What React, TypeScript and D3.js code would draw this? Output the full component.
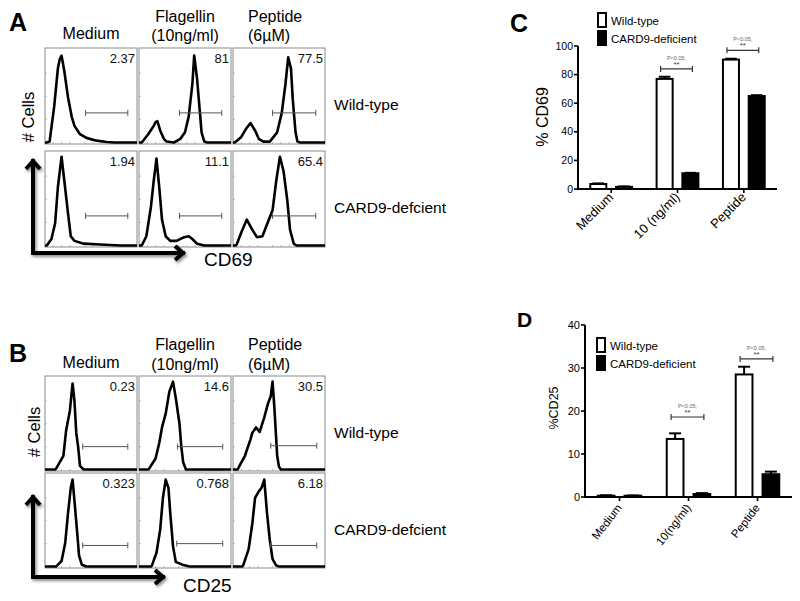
import React from 'react';
import * as d3 from 'd3';

const FONT = '"Liberation Sans", Arial, Helvetica, sans-serif';

// ---- flow cytometry panels (A: CD69, B: CD25) ----
// histogram traces: [fluorescence %, cell count %] within each plot
type Pt = [number, number];

const conditionTitles = [['Medium'], ['Flagellin', '(10ng/ml)'], ['Peptide', '(6µM)']];
const genotypes = ['Wild-type', 'CARD9-defcient'];

const cd69WtMedium: Pt[] = [[0, 0], [2, 0], [5, 1], [10, 39], [14, 80], [16, 90], [18, 94], [21, 77], [25, 49], [29, 28], [32, 18], [38, 9], [45, 5], [56, 2], [67, 0.5], [75, 0], [100, 0]];
const cd69WtFlag: Pt[] = [[0, 0], [3, 0], [10, 9], [16, 18], [18, 22], [20, 23], [23, 13], [27, 4], [30, 1], [38, 0], [45, 4], [50, 11], [54, 28], [58, 63], [60, 94], [63, 70], [66, 35], [68, 11], [71, 1], [74, 0], [100, 0]];
const cd69WtPep: Pt[] = [[0, 0], [2, 0], [9, 6], [15, 16], [19, 21], [24, 13], [28, 4], [33, 1], [40, 1], [48, 11], [53, 32], [57, 63], [60, 92], [63, 80], [65, 46], [68, 11], [70, 1], [73, 0], [100, 0]];
const cd69KoMedium: Pt[] = [[0, 0], [2, 0], [7, 7], [11, 24], [14, 63], [18, 96], [21, 70], [25, 35], [28, 10], [32, 5], [42, 2], [60, 1], [82, 0], [100, 0]];
const cd69KoFlag: Pt[] = [[0, 0], [3, 0], [8, 10], [13, 42], [16, 70], [19, 94], [22, 63], [25, 28], [29, 10], [34, 5], [41, 5], [49, 9], [54, 10], [58, 7], [63, 2], [71, 0], [100, 0]];
const cd69KoPep: Pt[] = [[0, 0], [3, 0], [4, 1], [9, 14], [15, 28], [21, 17], [26, 9], [32, 10], [37, 23], [43, 38], [47, 70], [51, 96], [55, 80], [59, 49], [62, 17], [66, 2], [69, 0], [100, 0]];

const cd25WtMedium: Pt[] = [[0, 0], [11, 0], [12, 1], [20, 15], [23, 43], [27, 64], [30, 94], [32, 75], [34, 40], [36, 25], [38, 4], [42, 0], [100, 0]];
const cd25WtFlag: Pt[] = [[0, 0], [10, 0], [11, 1], [18, 12], [22, 29], [25, 46], [29, 61], [33, 85], [37, 96], [40, 78], [44, 50], [46, 25], [48, 8], [51, 0], [100, 0]];
const cd25WtPep: Pt[] = [[0, 0], [5, 0], [7, 4], [13, 15], [19, 33], [21, 40], [25, 46], [29, 41], [34, 57], [38, 72], [41, 80], [43, 96], [45, 67], [47, 33], [48, 15], [50, 3], [52, 0], [100, 0]];
const cd25KoMedium: Pt[] = [[0, 0], [12, 0], [13, 1], [18, 6], [22, 26], [25, 58], [28, 86], [30, 95], [32, 72], [35, 37], [37, 12], [40, 2], [45, 0], [100, 0]];
const cd25KoFlag: Pt[] = [[0, 0], [13, 0], [14, 1], [19, 15], [23, 40], [26, 75], [29, 95], [32, 86], [34, 58], [37, 22], [40, 5], [47, 2], [55, 0], [100, 0]];
const cd25KoPep: Pt[] = [[0, 0], [10, 0], [11, 1], [17, 19], [21, 47], [24, 75], [28, 82], [31, 86], [34, 95], [37, 58], [40, 29], [43, 8], [47, 1], [50, 0], [100, 0]];

// gate markers [start, end, level]
const cd69Gates: [number, number, number][] = [[44, 90, 32], [44, 90, 32], [43, 90, 32]];
const cd25Gates: [number, number, number][] = [[41, 90, 25], [42, 91, 25], [41, 91, 26]];
const cd25GatesKo: [number, number, number][] = [[41, 90, 23], [41, 91, 25], [41, 91, 23]];

const cd69WtPct = ['2.37', '81', '77.5'];
const cd69KoPct = ['1.94', '11.1', '65.4'];
const cd25WtPct = ['0.23', '14.6', '30.5'];
const cd25KoPct = ['0.323', '0.768', '6.18'];

const histLogTicks = [0, 9, 18, 27, 43, 52, 61, 78, 87, 96];
const histCountTicks = [25, 50, 75];

// ---- bar charts (C: %CD69, D: %CD25) ----
const groupsC = ['Medium', '10 (ng/ml)', 'Peptide'];
const cd69Wt = [3.5, 77, 90.5];
const cd69WtErr = [0.4, 1.5, 0.6];
const cd69Ko = [1.5, 11, 65];
const cd69KoErr = [0.3, 0.3, 0.6];
const cd69Sig: [number, number][] = [[1, 84], [2, 97]];

const groupsD = ['Medium', '10(ng/ml)', 'Peptide'];
const cd25Wt = [0.3, 13.5, 28.5];
const cd25WtErr = [0.1, 1.3, 1.8];
const cd25Ko = [0.3, 0.7, 5.3];
const cd25KoErr = [0.05, 0.2, 0.6];
const cd25Sig: [number, number][] = [[1, 18.6], [2, 32.1]];

const seriesNames = ['Wild-type', 'CARD9-deficient'];

function Histo({ x0, y0, w, h, pts, gate, pct }: { x0: number; y0: number; w: number; h: number; pts: Pt[]; gate: [number, number, number]; pct: string }) {
  const sx = d3.scaleLinear().domain([0, 100]).range([x0, x0 + w]);
  const sy = d3.scaleLinear().domain([0, 100]).range([y0 + h - 1.5, y0 + 2]);
  const line = d3.line<Pt>().x(d => sx(d[0])).y(d => sy(d[1])).curve(d3.curveLinear);
  const [g1, g2, gl] = gate;
  return (
    <g>
      <rect x={x0} y={y0} width={w} height={h} fill="#fff" stroke="#8a8a8a" strokeWidth={1} />
      {histLogTicks.map((t, i) => (
        <line key={'b' + i} x1={sx(t)} x2={sx(t)} y1={y0 + h} y2={y0 + h - 2} stroke="#aaa" strokeWidth={0.8} />
      ))}
      {histCountTicks.map((t, i) => (
        <line key={'l' + i} x1={x0} x2={x0 + 2} y1={sy(t)} y2={sy(t)} stroke="#aaa" strokeWidth={0.8} />
      ))}
      <path d={line(pts) || ''} fill="none" stroke="#000" strokeWidth={2.6} strokeLinejoin="round" />
      <g stroke="#555" strokeWidth={1}>
        <line x1={sx(g1)} x2={sx(g2)} y1={sy(gl)} y2={sy(gl)} />
        <line x1={sx(g1)} x2={sx(g1)} y1={sy(gl) - 3} y2={sy(gl) + 3} />
        <line x1={sx(g2)} x2={sx(g2)} y1={sy(gl) - 3} y2={sy(gl) + 3} />
      </g>
      <text x={x0 + w - 2} y={y0 + 15} textAnchor="end" fontSize={13} fontFamily={FONT} fill="#111">{pct}</text>
    </g>
  );
}

function FlowPanel({ letter, top, rowTops, rowH, titleY, marker, traces, gates, pcts, cellsX, cellsY, arrowTop, arrowY, arrowRight, markerX, markerY }: any) {
  const colX = [45, 139, 233];
  const colW = 92;
  return (
    <g fontFamily={FONT}>
      <text x={9} y={top} fontSize={25} fontWeight="bold">{letter}</text>
      {conditionTitles.map((lines, i) => (
        lines.length === 1
          ? <text key={i} x={colX[i] + colW / 2} y={titleY[1] - 2} textAnchor="middle" fontSize={16}>{lines[0]}</text>
          : <text key={i} x={i === 2 ? colX[i] + 15 : colX[i] + colW / 2} textAnchor={i === 2 ? 'start' : 'middle'} fontSize={16}>
              <tspan x={i === 2 ? colX[i] + 15 : colX[i] + colW / 2} y={titleY[0]}>{lines[0]}</tspan>
              <tspan x={i === 2 ? colX[i] + 15 : colX[i] + colW / 2} y={titleY[1]}>{lines[1]}</tspan>
            </text>
      ))}
      {rowTops.map((ry: number, r: number) => (
        <g key={r}>
          {colX.map((cx, c) => (
            <Histo key={c} x0={cx} y0={ry} w={colW} h={rowH} pts={traces[r][c]} gate={gates[r][c]} pct={pcts[r][c]} />
          ))}
          <text x={334} y={ry + rowH / 2 + 14} fontSize={15.5}>{genotypes[r]}</text>
        </g>
      ))}
      <text transform={`translate(${cellsX},${cellsY}) rotate(-90)`} textAnchor="middle" fontSize={16.5}># Cells</text>
      <g filter="url(#shadow)" stroke="#000" strokeWidth={4} fill="none" strokeLinecap="square">
        <path d={`M33,${arrowTop + 2} L33,${arrowY} L${arrowRight - 2},${arrowY}`} />
        <path d={`M26,${arrowTop + 10} L33,${arrowTop + 2} L40,${arrowTop + 10}`} strokeLinejoin="miter" strokeLinecap="butt" />
        <path d={`M${arrowRight - 10},${arrowY - 7} L${arrowRight - 2},${arrowY} L${arrowRight - 10},${arrowY + 7}`} strokeLinejoin="miter" strokeLinecap="butt" />
      </g>
      <text x={markerX} y={markerY} fontSize={19}>{marker}</text>
    </g>
  );
}

function BarPanel({ letter, letterX, letterY, letterSize, groups, wt, wtErr, ko, koErr, sig, yMax, tickStep, yRange, xRange, yLabel, yLabelSize, yLabelX, yLabelY, labelAngle, labelDy, labelSize, legendX, legendY, tickFont }: any) {
  const y = d3.scaleLinear().domain([0, yMax]).range(yRange);
  const x = d3.scaleBand<string>().domain(groups).range(xRange).paddingInner(0.34).paddingOuter(0.17);
  const inner = d3.scaleBand<string>().domain(seriesNames).range([0, x.bandwidth()]).paddingInner(0.3);
  const bw = inner.bandwidth();
  const y0 = y(0);
  const ticks = d3.range(0, yMax + 0.001, tickStep);
  const bars = groups.flatMap((g: string, i: number) => [
    { g, s: seriesNames[0], v: wt[i], e: wtErr[i] },
    { g, s: seriesNames[1], v: ko[i], e: koErr[i] },
  ]);
  const cx = (g: string, s: string) => (x(g) as number) + (inner(s) as number) + bw / 2;
  return (
    <g fontFamily={FONT}>
      <text x={letterX} y={letterY} fontSize={letterSize} fontWeight="bold">{letter}</text>
      {bars.map((b: any, i: number) => {
        const bx = (x(b.g) as number) + (inner(b.s) as number);
        const isWt = b.s === seriesNames[0];
        const top = y(b.v);
        const et = y(b.v + b.e);
        return (
          <g key={i}>
            <line x1={bx + bw / 2} x2={bx + bw / 2} y1={top} y2={et} stroke="#000" strokeWidth={2} />
            <line x1={bx + bw * 0.18} x2={bx + bw * 0.82} y1={et} y2={et} stroke="#000" strokeWidth={2} />
            <rect x={bx + 1} y={top} width={bw - 2} height={Math.max(y0 - top, 0.5)} fill={isWt ? '#fff' : '#000'} stroke="#000" strokeWidth={2} />
          </g>
        );
      })}
      {sig.map(([gi, v]: [number, number], i: number) => {
        const g = groups[gi];
        const x1 = cx(g, seriesNames[0]) - 4;
        const x2 = cx(g, seriesNames[1]) + 2;
        const yy = y(v);
        return (
          <g key={i} fill="#444">
            <line x1={x1} x2={x2} y1={yy} y2={yy} stroke="#333" strokeWidth={1.2} />
            <line x1={x1} x2={x1} y1={yy - 3} y2={yy + 3} stroke="#333" strokeWidth={1.2} />
            <line x1={x2} x2={x2} y1={yy - 3} y2={yy + 3} stroke="#333" strokeWidth={1.2} />
            <text x={(x1 + x2) / 2} y={yy - 2} textAnchor="middle" fontSize={8}>**</text>
            <text x={(x1 + x2) / 2} y={yy - 9} textAnchor="middle" fontSize={5.5} fill="#666">P&lt;0.05,</text>
          </g>
        );
      })}
      <line x1={xRange[0]} x2={xRange[0]} y1={y0 + 1} y2={y(yMax)} stroke="#000" strokeWidth={2} />
      <line x1={xRange[0]} x2={xRange[1]} y1={y0} y2={y0} stroke="#000" strokeWidth={2} />
      {ticks.map((t: number) => (
        <g key={t}>
          <line x1={xRange[0] - 4} x2={xRange[0]} y1={y(t)} y2={y(t)} stroke="#000" strokeWidth={1.6} />
          <text x={xRange[0] - 5} y={y(t)} dy="0.35em" textAnchor="end" fontSize={tickFont}>{t}</text>
        </g>
      ))}
      {groups.map((g: string) => {
        const c = (x(g) as number) + x.bandwidth() / 2;
        return (
          <g key={g}>
            <line x1={c} x2={c} y1={y0} y2={y0 + 4} stroke="#000" strokeWidth={1.6} />
            <text transform={`translate(${c + 3},${y0 + labelDy}) rotate(${labelAngle})`} textAnchor="end" fontSize={labelSize}>{g}</text>
          </g>
        );
      })}
      <text transform={`translate(${yLabelX},${yLabelY}) rotate(-90)`} textAnchor="middle" fontSize={yLabelSize}>{yLabel}</text>
      {seriesNames.map((s, i) => (
        <g key={s}>
          <rect x={legendX} y={legendY + i * 18} width={8} height={14} fill={i === 0 ? '#fff' : '#000'} stroke="#000" strokeWidth={2} />
          <text x={legendX + 13} y={legendY + i * 18 + 11.5} fontSize={11.5}>{s}</text>
        </g>
      ))}
    </g>
  );
}

export default function App() {
  return (
    <div style={{ position: 'absolute', left: 0, top: 0, width: 800, height: 601, background: '#fff' }}>
      <svg width={800} height={601} viewBox="0 0 800 601">
        <defs>
          <filter id="shadow" x="-20%" y="-20%" width="140%" height="140%">
            <feDropShadow dx={1.5} dy={2} stdDeviation={1.5} floodColor="#000" floodOpacity={0.45} />
          </filter>
        </defs>
        <rect width={800} height={601} fill="#fff" />
        <FlowPanel
          letter="A" top={31} rowTops={[48, 151]} rowH={96} titleY={[22, 41]} marker="CD69"
          traces={[[cd69WtMedium, cd69WtFlag, cd69WtPep], [cd69KoMedium, cd69KoFlag, cd69KoPep]]}
          gates={[cd69Gates, cd69Gates]} pcts={[cd69WtPct, cd69KoPct]}
          cellsX={34} cellsY={117} arrowTop={159} arrowY={253} arrowRight={185} markerX={204} markerY={266}
        />
        <FlowPanel
          letter="B" top={362} rowTops={[376, 473]} rowH={95} titleY={[350, 370]} marker="CD25"
          traces={[[cd25WtMedium, cd25WtFlag, cd25WtPep], [cd25KoMedium, cd25KoFlag, cd25KoPep]]}
          gates={[cd25Gates, cd25GatesKo]} pcts={[cd25WtPct, cd25KoPct]}
          cellsX={40} cellsY={432} arrowTop={495} arrowY={577} arrowRight={165} markerX={183} markerY={592}
        />
        <BarPanel
          letter="C" letterX={510} letterY={32} letterSize={25}
          groups={groupsC} wt={cd69Wt} wtErr={cd69WtErr} ko={cd69Ko} koErr={cd69KoErr} sig={cd69Sig}
          yMax={100} tickStep={20} yRange={[189, 46]} xRange={[578, 777]}
          yLabel="% CD69" yLabelSize={16} yLabelX={548} yLabelY={117} labelAngle={-45} labelDy={9} labelSize={13}
          legendX={598} legendY={13} tickFont={10.5}
        />
        <BarPanel
          letter="D" letterX={517} letterY={327} letterSize={21}
          groups={groupsD} wt={cd25Wt} wtErr={cd25WtErr} ko={cd25Ko} koErr={cd25KoErr} sig={cd25Sig}
          yMax={40} tickStep={10} yRange={[497, 325]} xRange={[585, 792]}
          yLabel="%CD25" yLabelSize={12.5} yLabelX={558} yLabelY={408} labelAngle={-52} labelDy={11} labelSize={11.5}
          legendX={597} legendY={338} tickFont={11}
        />
      </svg>
    </div>
  );
}
